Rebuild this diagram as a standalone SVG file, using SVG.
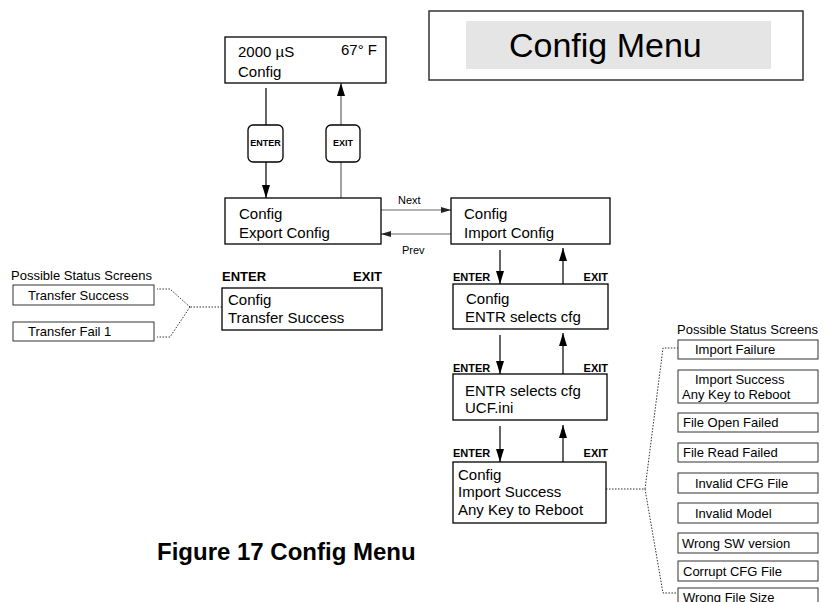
<svg xmlns="http://www.w3.org/2000/svg" width="824" height="602" viewBox="0 0 824 602">
<style>
text{font-family:"Liberation Sans",Arial,sans-serif;fill:#000}
.t{font-size:15px}
.s{font-size:13px}
.lbl{font-size:11px;font-weight:bold}
.lbl2{font-size:13px;font-weight:bold}
.btn{font-size:9px;font-weight:bold}
.nav{font-size:11px}
.box{fill:#fff;stroke:#000;stroke-width:1.3}
.sbox{fill:#fff;stroke:#333;stroke-width:1}
.ln{fill:none;stroke:#000;stroke-width:1.2}
.gl{fill:none;stroke:#666;stroke-width:1.2}
.dot{fill:none;stroke:#333;stroke-width:1;stroke-dasharray:1.5 1.5}
</style>
<defs>
<marker id="ah" markerUnits="userSpaceOnUse" markerWidth="14" markerHeight="10" refX="13" refY="4" orient="auto"><path d="M0,0 L13,4 L0,8 z" fill="#000"/></marker>
<marker id="ahs" markerUnits="userSpaceOnUse" markerWidth="10" markerHeight="8" refX="10" refY="3" orient="auto"><path d="M0,0 L10,3 L0,6 z" fill="#222"/></marker>
</defs>

<g id="title">
<rect x="429" y="11" width="374" height="69" fill="#fff" stroke="#333" stroke-width="1.5"/>
<rect x="466" y="21" width="305" height="48" fill="#e5e5e5"/>
<text x="509" y="57" style="font-size:34px">Config Menu</text>
</g>

<g id="connectors">
<path class="ln" d="M266,88 V125"/>
<path class="ln" d="M266,162 V198" marker-end="url(#ah)"/>
<path class="gl" d="M341,198 V162"/>
<path class="gl" d="M341,125 V83" marker-end="url(#ah)"/>
<path class="gl" d="M381,210 H451" marker-end="url(#ahs)"/>
<path class="gl" d="M451,234 H381" marker-end="url(#ahs)"/>
<path class="ln" d="M500,250 V284" marker-end="url(#ah)"/>
<path class="ln" d="M563,284 V248" marker-end="url(#ah)"/>
<path class="ln" d="M500,335 V374" marker-end="url(#ah)"/>
<path class="ln" d="M563,374 V333" marker-end="url(#ah)"/>
<path class="ln" d="M500,426 V462" marker-end="url(#ah)"/>
<path class="ln" d="M563,462 V425" marker-end="url(#ah)"/>
<path class="dot" d="M606,489 H645 M645,489 L663,348 H678 M645,489 L663,593 H677"/>
<path class="dot" d="M222,307 H190 M190,307 L170,289 H157 M190,307 L170,337 H157"/>
</g>

<g id="main-screen">
<rect class="box" x="225" y="37" width="161" height="46"/>
<text class="t" x="238" y="57">2000 µS</text>
<text class="t" x="377" y="55" text-anchor="end">67° F</text>
<text class="t" x="238" y="77">Config</text>
</g>

<g id="enter-button">
<rect x="248" y="125" width="35" height="37" rx="5" fill="#fff" stroke="#000" stroke-width="1.3"/>
<text class="btn" x="265.5" y="146" text-anchor="middle">ENTER</text>
</g>
<g id="exit-button">
<rect x="326" y="125" width="34" height="37" rx="5" fill="#fff" stroke="#000" stroke-width="1.3"/>
<text class="btn" x="343" y="146" text-anchor="middle">EXIT</text>
</g>

<g id="export-config">
<rect class="box" x="225" y="198" width="156" height="46"/>
<text class="t" x="239" y="219">Config</text>
<text class="t" x="239" y="238">Export Config</text>
</g>
<text class="nav" x="398" y="204">Next</text>
<text class="nav" x="402" y="254">Prev</text>

<g id="import-config">
<rect class="box" x="451" y="198" width="159" height="46"/>
<text class="t" x="464" y="219">Config</text>
<text class="t" x="464" y="238">Import Config</text>
</g>

<g id="transfer-success">
<text class="lbl2" x="222" y="281">ENTER</text>
<text class="lbl2" x="382" y="281" text-anchor="end">EXIT</text>
<rect class="box" x="222" y="288" width="160" height="42"/>
<text class="t" x="228" y="305">Config</text>
<text class="t" x="228" y="323">Transfer Success</text>
</g>

<g id="left-status">
<text class="s" x="11" y="280">Possible Status Screens</text>
<rect class="sbox" x="13" y="285" width="141" height="20"/>
<text class="s" x="28" y="300">Transfer Success</text>
<rect class="sbox" x="13" y="322" width="141" height="19"/>
<text class="s" x="28" y="336">Transfer Fail 1</text>
</g>

<g id="select-cfg">
<text class="lbl" x="453" y="281">ENTER</text>
<text class="lbl" x="608" y="281" text-anchor="end">EXIT</text>
<rect class="box" x="453" y="284" width="155" height="45"/>
<text class="t" x="466" y="304">Config</text>
<text class="t" x="465" y="322">ENTR selects cfg</text>
</g>

<g id="ucf-ini">
<text class="lbl" x="453" y="372">ENTER</text>
<text class="lbl" x="608" y="372" text-anchor="end">EXIT</text>
<rect class="box" x="453" y="374" width="154" height="46"/>
<text class="t" x="465" y="396">ENTR selects cfg</text>
<text class="t" x="465" y="413">UCF.ini</text>
</g>

<g id="import-success">
<text class="lbl" x="453" y="457">ENTER</text>
<text class="lbl" x="608" y="457" text-anchor="end">EXIT</text>
<rect class="box" x="453" y="462" width="153" height="61"/>
<text class="t" x="458" y="480">Config</text>
<text class="t" x="458" y="497">Import Success</text>
<text class="t" x="458" y="515">Any Key to Reboot</text>
</g>

<g id="right-status">
<text class="s" x="677" y="334">Possible Status Screens</text>
<rect class="sbox" x="678" y="340" width="140" height="19"/>
<text class="s" x="695" y="354">Import Failure</text>
<rect class="sbox" x="678" y="370" width="140" height="33"/>
<text class="s" x="695" y="384">Import Success</text>
<text class="s" x="682" y="399">Any Key to Reboot</text>
<rect class="sbox" x="678" y="413" width="140" height="19"/>
<text class="s" x="683" y="427">File Open Failed</text>
<rect class="sbox" x="678" y="443" width="140" height="19"/>
<text class="s" x="683" y="457">File Read Failed</text>
<rect class="sbox" x="678" y="473" width="140" height="20"/>
<text class="s" x="695" y="488">Invalid CFG File</text>
<rect class="sbox" x="678" y="503" width="140" height="20"/>
<text class="s" x="695" y="518">Invalid Model</text>
<rect class="sbox" x="678" y="533" width="140" height="20"/>
<text class="s" x="682" y="548">Wrong SW version</text>
<rect class="sbox" x="678" y="561" width="140" height="20"/>
<text class="s" x="683" y="576">Corrupt CFG File</text>
<rect class="sbox" x="678" y="588" width="140" height="22"/>
<text class="s" x="683" y="602">Wrong File Size</text>
</g>

<text x="157" y="560" style="font-size:24px;font-weight:bold">Figure 17 Config Menu</text>
</svg>
